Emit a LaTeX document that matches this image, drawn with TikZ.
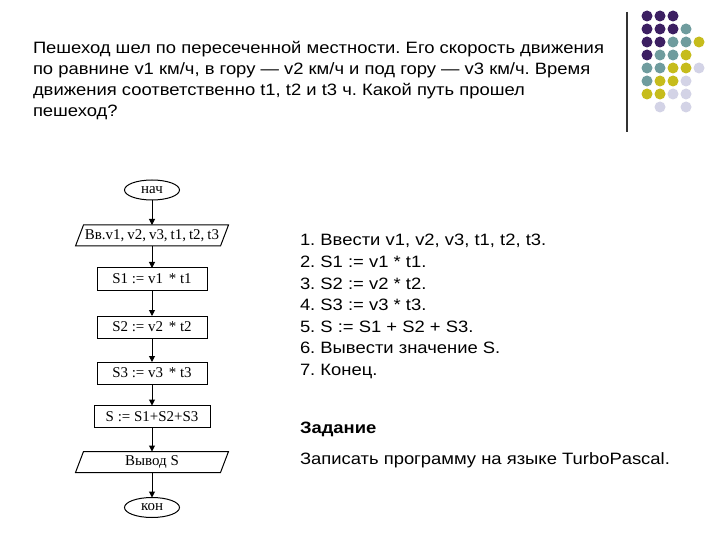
\documentclass[tikz,border=0pt]{standalone}
\usepackage{fontspec}
\setmainfont{Liberation Serif}
\newfontfamily\arialf[FakeStretch=1.12]{Liberation Sans}
\usetikzlibrary{arrows.meta,shapes.geometric,calc}
\definecolor{colP}{HTML}{3C1F62}
\definecolor{colT}{HTML}{6F9C9E}
\definecolor{colY}{HTML}{C6BC1C}
\definecolor{colL}{HTML}{D3D3E6}
\begin{document}
\frenchspacing
\begin{tikzpicture}[x=1bp,y=-1bp,
 every node/.style={inner sep=0pt,outer sep=0pt},
 fcfont/.style={font=\fontsize{15}{17}\selectfont},
 proc/.style={draw,line width=1bp,minimum width=110bp,minimum height=22bp,fcfont},
 term/.style={draw,ellipse,line width=1bp,minimum width=55bp,minimum height=20bp,fcfont},
 io/.style={minimum width=145bp,minimum height=21bp,fcfont},
 flow/.style={line width=1bp,-{Triangle[length=6bp,width=6bp]}},
 txt/.style={anchor=base west,font=\arialf\fontsize{16.5}{19}\selectfont}]
\useasboundingbox (0,0) rectangle (720,540);
\fill[white] (0,0) rectangle (720,540);

% decoration: line and dots
\draw[line width=1.5bp,black!80] (627,12) -- (627,132);
\foreach \c [count=\i] in {P,P,P} \fill[col\c] ({647+13*(\i-1)},16) circle (5.5);
\foreach \c [count=\i] in {P,P,P,T} \fill[col\c] ({647+13*(\i-1)},29) circle (5.5);
\foreach \c [count=\i] in {P,P,T,T,Y} \fill[col\c] ({647+13*(\i-1)},42) circle (5.5);
\foreach \c [count=\i] in {P,T,T,Y} \fill[col\c] ({647+13*(\i-1)},55) circle (5.5);
\foreach \c [count=\i] in {T,T,Y,Y,L} \fill[col\c] ({647+13*(\i-1)},68) circle (5.5);
\foreach \c [count=\i] in {T,Y,Y,L} \fill[col\c] ({647+13*(\i-1)},81) circle (5.5);
\foreach \c [count=\i] in {Y,Y,L,L} \fill[col\c] ({647+13*(\i-1)},94) circle (5.5);
\fill[colL] (660,107) circle (5.5);
\fill[colL] (686,107) circle (5.5);

% title
\node[txt] (t1) at (33,54) {Пешеход шел по пересеченной местности. Его скорость движения};
\node[txt] (t2) at (33,75) {по равнине v1 км/ч, в гору — v2 км/ч и под гору — v3 км/ч. Время};
\node[txt] (t3) at (33,96) {движения соответственно t1, t2 и t3 ч. Какой путь прошел};
\node[txt] (t4) at (33,117) {пешеход?};

% flowchart
\node[term] (nach) at (152,190) {нач};
\node[io] (in) at (152,235.5) {Вв.v1,\hspace{3bp}v2,\hspace{3bp}v3,\hspace{3bp}t1,\hspace{3bp}t2,\hspace{3bp}t3};
\draw[line width=1bp] ([xshift=-4bp]in.south west) -- ([xshift=4bp]in.north west) -- ([xshift=4bp]in.north east) -- ([xshift=-4bp]in.south east) -- cycle;
\node[proc] (s1) at (152,279) {S1 := v1 \hspace{2bp}* t1};
\node[proc] (s2) at (152,327) {S2 := v2 \hspace{2bp}* t2};
\node[proc] (s3) at (152,373) {S3 := v3 \hspace{2bp}* t3};
\node[proc,minimum width=116bp] (s) at (152,416.5) {S := S1+S2+S3};
\node[io] (out) at (152,462) {Вывод S};
\draw[line width=1bp] ([xshift=-4bp]out.south west) -- ([xshift=4bp]out.north west) -- ([xshift=4bp]out.north east) -- ([xshift=-4bp]out.south east) -- cycle;
\node[term] (kon) at (152,507.5) {кон};

\draw[flow] (nach) -- (in);
\draw[flow] (in) -- (s1);
\draw[flow] (s1) -- (s2);
\draw[flow] (s2) -- (s3);
\draw[flow] (s3) -- (s);
\draw[flow] (s) -- (out);
\draw[flow] (out) -- (kon);

% algorithm
\node[txt] (a1) at (300,246) {1. Ввести v1, v2, v3, t1, t2, t3.};
\node[txt] (a2) at (300,267.5) {2. S1 := v1 * t1.};
\node[txt] (a3) at (300,289) {3. S2 := v2 * t2.};
\node[txt] (a4) at (300,310.5) {4. S3 := v3 * t3.};
\node[txt] (a5) at (300,332) {5. S := S1 + S2 + S3.};
\node[txt] (a6) at (300,353.5) {6. Вывести значение S.};
\node[txt] (a7) at (300,375) {7. Конец.};
\node[txt,font=\arialf\bfseries\fontsize{16.5}{19}\selectfont] (z1) at (300,433) {Задание};
\node[txt] (z2) at (300,464) {Записать программу на языке TurboPascal.};
\end{tikzpicture}
\end{document}
